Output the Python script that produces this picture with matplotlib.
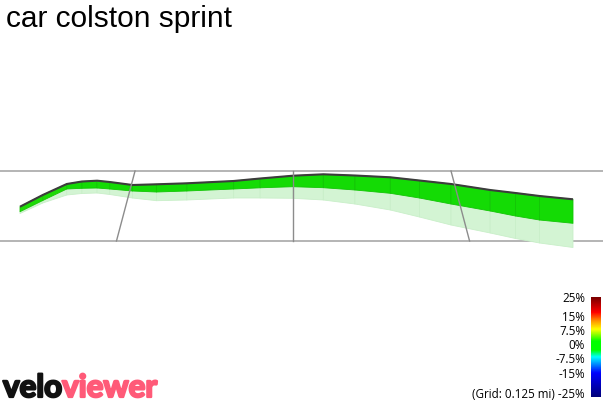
"""plot.py
VeloViewer style 3D segment profile for "car colston sprint".
Screen-ish units: distance in miles along the segment, height relative
to the near grid row.
"""
import matplotlib
matplotlib.use("Agg")
import matplotlib.pyplot as plt
import matplotlib.patheffects as pe
import numpy as np
from matplotlib.collections import PolyCollection
from matplotlib.colors import LinearSegmentedColormap

# Data
title = "car colston sprint"
dist = [0.000, 0.018, 0.037, 0.049, 0.061, 0.071, 0.089, 0.108, 0.132, 0.169,
        0.190, 0.216, 0.240, 0.265, 0.293, 0.316, 0.341, 0.372, 0.392, 0.411,
        0.4375]
# top of the wall (road surface)
top = [34.3, 46.0, 57.0, 59.5, 60.3, 59.0, 56.0, 56.7, 57.7, 60.0,
       62.5, 65.3, 66.7, 65.5, 63.7, 60.5, 57.0, 51.0, 48.0, 45.0,
       41.7]
# bottom of the coloured wall
wall_base = [29.3, 40.5, 52.0, 52.7, 53.0, 52.0, 50.0, 49.0, 50.0, 52.0,
             53.2, 54.3, 53.3, 51.0, 47.7, 43.0, 37.0, 30.0, 25.0, 21.0,
             17.7]
# bottom of the pale under-wall
shadow_base = [27.5, 38.0, 46.0, 47.5, 48.0, 46.5, 43.0, 40.3, 41.0, 43.0,
               43.0, 42.7, 41.0, 37.0, 31.0, 24.0, 16.0, 8.0, 2.5, -2.0,
               -6.5]
# gradient of each piece (%)
grade = [3, 3, 2, 1, 0, -1, 0, 1, 1, 1, 1, 1, 0, -1, -1, -2, -2, -2, -2, -2]

grid_step = 0.125          # mi
grid_rows = [70, 0]        # far row, near row
vanish = (0.216, 666)      # vanishing point of the ground grid

cbar_ticks = [25, 15, 7.5, 0, -7.5, -15, -25]
cbar_labels = ["25%", "15%", "7.5%", "0%", "-7.5%", "-15%", "(Grid: 0.125 mi) -25%"]
cbar_frac = [1.0, 0.80, 0.65, 0.51, 0.36, 0.21, 0.0]

# colour scale of the gradient bar
cmap = LinearSegmentedColormap.from_list("vv", [
    (0.00, "#00007a"), (0.24, "#0000ff"), (0.40, "#00ffff"),
    (0.47, "#00ff00"), (0.56, "#00ff00"), (0.68, "#ffff00"),
    (0.76, "#ff9900"), (0.85, "#ff0000"), (1.00, "#7a0000")])


def grade_colour(g, shade=0.86):
    frac = np.interp(g, cbar_ticks[::-1], cbar_frac[::-1])
    r, gg, b, _ = cmap(frac)
    # a touch of white so it reads like the lit wall
    return (r * shade + 0.08, gg * shade, b * shade + 0.02)


W, H = 603, 404
fig = plt.figure(figsize=(W / 100, H / 100), dpi=100)
ax = fig.add_axes([0, 0, 1, 1])
px_per_mi = 1264
ax.set_xlim(-20 / px_per_mi, 583 / px_per_mi)
ax.set_ylim(-163, 241)
ax.axis("off")

# ground grid
for r in grid_rows:
    ax.axhline(r, color="#b4b4b4", lw=1.4, zorder=1)
far, near = grid_rows
scale = (vanish[1] - near) / (vanish[1] - far)
for k in (-1, 0, 1):
    xf = vanish[0] + k * grid_step
    xn = vanish[0] + k * grid_step * scale
    ax.plot([xf, xn], [far, near], color="#8c8c8c", lw=1.0, zorder=5)

# pale under-wall and coloured wall
d = np.array(dist)
pale, wall, cols = [], [], []
for i in range(len(d) - 1):
    pale.append([(d[i], wall_base[i]), (d[i + 1], wall_base[i + 1]),
                 (d[i + 1], shadow_base[i + 1]), (d[i], shadow_base[i])])
    wall.append([(d[i], top[i]), (d[i + 1], top[i + 1]),
                 (d[i + 1], wall_base[i + 1]), (d[i], wall_base[i])])
    cols.append(grade_colour(grade[i]))
edge_cols = [(c[0] * 0.9, c[1] * 0.9, c[2] * 0.9) for c in cols]
ax.add_collection(PolyCollection(pale, facecolors="#d3f4d3", edgecolors="#c9efc9",
                                 linewidths=0.6, zorder=2))
ax.add_collection(PolyCollection(wall, facecolors=cols, edgecolors=edge_cols,
                                 linewidths=0.6, zorder=3))
ax.plot(d, top, color="#3c3c3c", lw=1.5, zorder=4, solid_capstyle="butt")

# title
fig.text(6 / W, 1 - 27 / H, title, fontsize=21.5, family="Liberation Sans",
         va="baseline", ha="left")

# gradient colour bar
cax = fig.add_axes([591 / W, 7 / H, 10 / W, 100 / H])
cax.imshow(np.linspace(1, 0, 200).reshape(-1, 1), cmap=cmap, aspect="auto")
cax.axis("off")
for frac, lab in zip(cbar_frac, cbar_labels):
    yc = 394.3 + (298.3 - 394.3) * frac
    fig.text(585 / W, 1 - yc / H, lab, fontsize=8.4, family="Open Sans",
             ha="right", va="center")

# logo
fig.canvas.draw()
t1 = fig.text(3 / W, 1 - 397 / H, "velo", fontsize=22.6, family="Lato",
              weight="bold", color="#111111", va="baseline",
              path_effects=[pe.withStroke(linewidth=1.6, foreground="#111111")])
bb = t1.get_window_extent(fig.canvas.get_renderer())
fig.text(bb.x1 / W, 1 - 397 / H, "viewer", fontsize=22.6, family="Lato",
         weight="bold", color="#ff5a78", va="baseline",
         path_effects=[pe.withStroke(linewidth=1.6, foreground="#ff5a78")])

fig.savefig("out.png", dpi=100)
